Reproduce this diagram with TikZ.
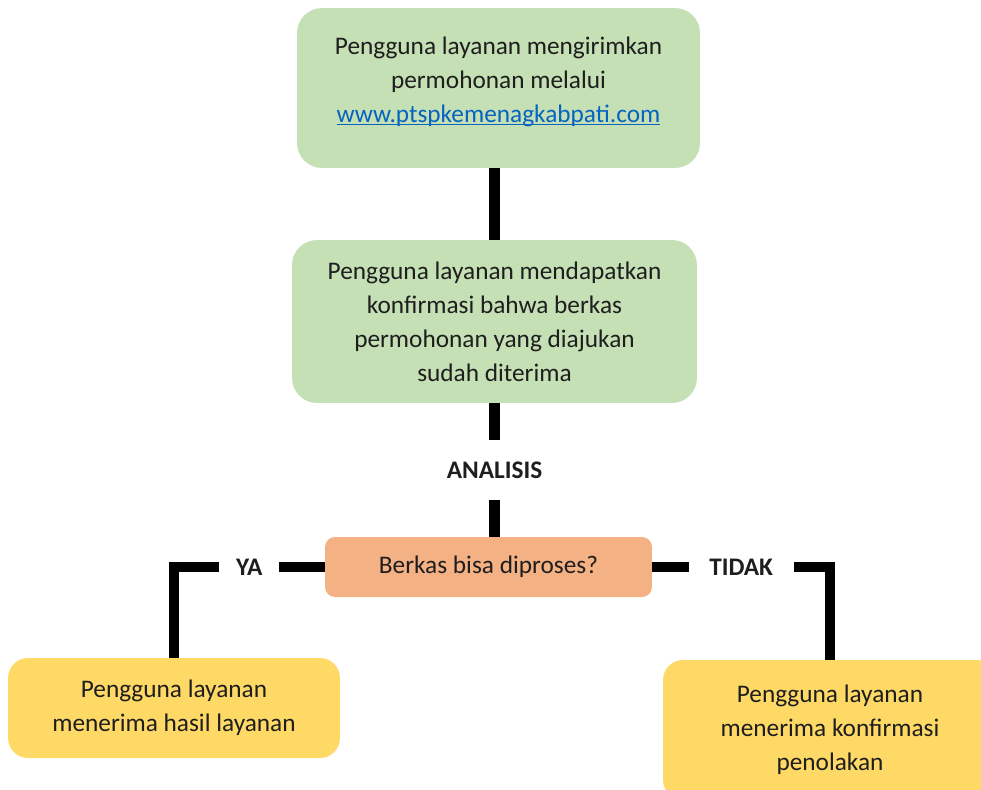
\documentclass[tikz,border=0pt]{standalone}
\usepackage{fontspec}
\setmainfont{Carlito}
\definecolor{boxgreen}{HTML}{C5E0B4}
\definecolor{boxorange}{HTML}{F4B183}
\definecolor{boxyellow}{HTML}{FFD966}
\definecolor{linkblue}{HTML}{0563C1}
\definecolor{txt}{HTML}{1E1E1E}
\newsavebox\linkbox
\newcommand\weblink[1]{\sbox\linkbox{\color{linkblue}#1}%
    \rlap{\usebox\linkbox}\textcolor{linkblue}{\rule[-1.6pt]{\wd\linkbox}{0.7pt}}}

\begin{document}
\begin{tikzpicture}[x=0.02cm, y=-0.02cm,
    box/.style={rounded corners=0.5cm, align=center, text=txt,
        font=\fontsize{14.4}{19.4}\selectfont},
    link/.style={line width=5.7pt},
    tag/.style={fill=white, inner sep=0pt, text=txt,
        font=\fontsize{14.4}{17}\selectfont\bfseries}]
    \useasboundingbox (0, 0) rectangle (981, 789);

    \node[box, fill=boxgreen, minimum width=8.06cm, minimum height=3.2cm] (kirim) at (498.5, 88)
        {Pengguna layanan mengirimkan\\ permohonan melalui\\ \weblink{www.ptspkemenagkabpati.com}\\[-10pt]};
    \node[box, fill=boxgreen, minimum width=8.1cm, minimum height=3.26cm] (konfirm) at (494.5, 321.5)
        {Pengguna layanan mendapatkan\\ konfirmasi bahwa berkas\\ permohonan yang diajukan\\ sudah diterima};
    \node[box, fill=boxorange, rounded corners=0.2cm, minimum width=6.54cm, minimum height=1.2cm] (cek) at (488.5, 567)
        {Berkas bisa diproses?};
    \node[box, fill=boxyellow, rounded corners=0.4cm, minimum width=6.64cm, minimum height=2cm] (hasil) at (174, 708)
        {Pengguna layanan\\ menerima hasil layanan};
    \node[box, fill=boxyellow, rounded corners=0.4cm, minimum width=6.68cm, minimum height=2.8cm] (tolak) at (830, 730)
        {Pengguna layanan\\ menerima konfirmasi\\ penolakan};

    % connectors
    \draw[link] (konfirm.north |- kirim.south) -- (konfirm.north);
    \draw[link] (konfirm.south) -- (konfirm.south |- cek.north)
        node[midway, tag, minimum height=1.2cm] {ANALISIS};
    \draw[link] (cek.west) -| (hasil.north)
        node[pos=0.25, tag, minimum width=1.2cm] {YA};
    \draw[link] (cek.east) -| (tolak.north)
        node[pos=0.25, tag, minimum width=2.1cm] {TIDAK};
\end{tikzpicture}
\end{document}
